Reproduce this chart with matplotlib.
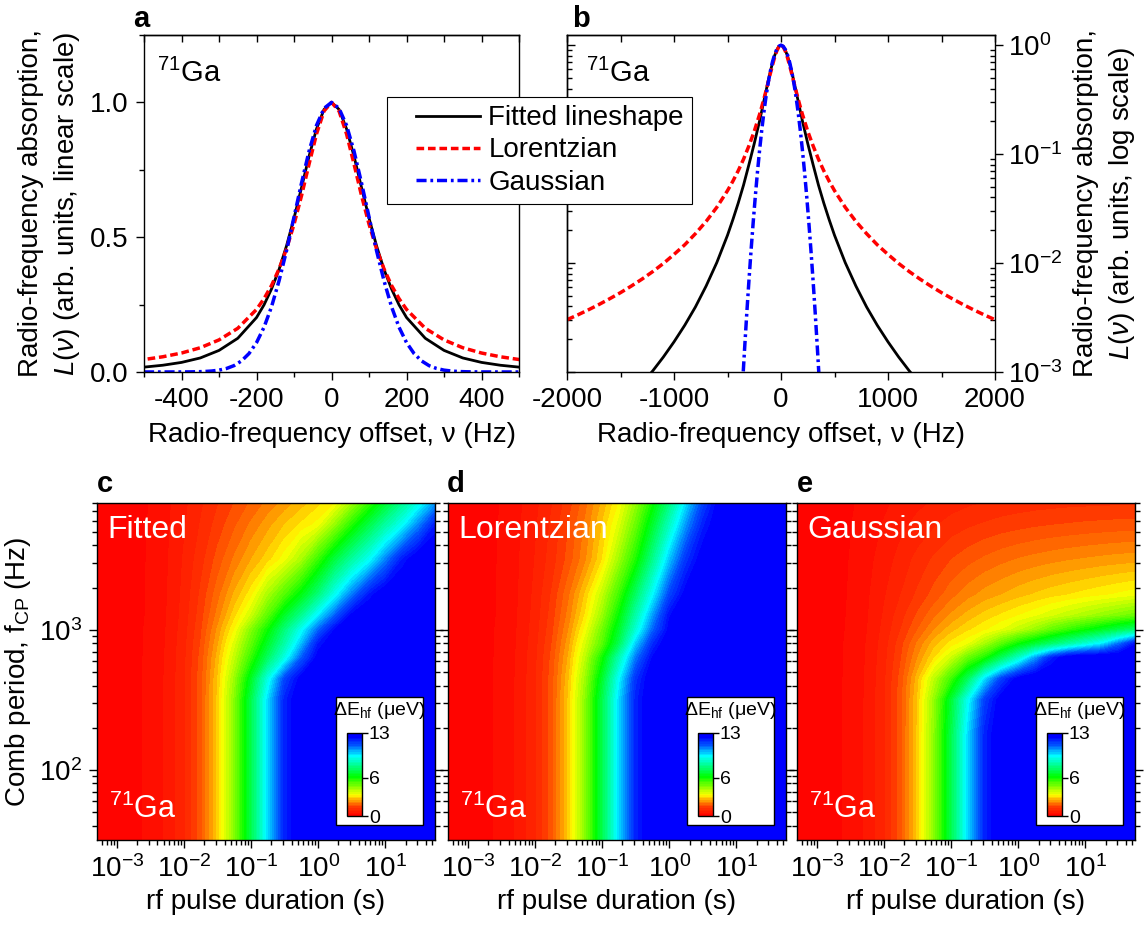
import matplotlib.pyplot as plt
import numpy as np
from matplotlib.colors import LinearSegmentedColormap
from matplotlib.legend_handler import HandlerLine2D
from matplotlib.lines import Line2D
from matplotlib.patches import Rectangle
from matplotlib.ticker import FormatStrFormatter, LogLocator, MultipleLocator, NullFormatter

plt.rcParams["font.family"] = ["Liberation Sans", "DejaVu Sans"]
plt.rcParams["mathtext.fontset"] = "custom"
plt.rcParams["mathtext.rm"] = "Liberation Sans"
plt.rcParams["mathtext.it"] = "Liberation Sans:italic"
plt.rcParams["mathtext.bf"] = "Liberation Sans:bold"
plt.rcParams["axes.unicode_minus"] = False
plt.rcParams["axes.linewidth"] = 1.0

NU_FIT = [0, 20, 40, 60, 80, 100, 120, 140, 160, 180, 200, 250, 300, 350, 400,
          450, 500, 600, 700, 800, 900, 1000, 1100, 1200, 1300]
L_FIT = [1.0, 0.974, 0.902, 0.800, 0.684, 0.571, 0.468, 0.380, 0.308, 0.249,
         0.202, 0.125, 0.0800, 0.0520, 0.0355, 0.0250, 0.0180, 0.0101, 0.00615,
         0.00395, 0.00268, 0.00189, 0.00137, 0.00102, 0.000786]

NU_LOR = [0, 20, 40, 60, 80, 100, 120, 140, 160, 180, 200, 250, 300, 350, 400,
          450, 500, 600, 700, 800, 900, 1000, 1100, 1200, 1300, 1400, 1500, 1600,
          1700, 1800, 1900, 2000]
L_LOR = [1.0, 0.968, 0.883, 0.771, 0.654, 0.548, 0.457, 0.382, 0.321, 0.272,
         0.232, 0.162, 0.119, 0.0899, 0.0703, 0.0564, 0.0462, 0.0325, 0.0241,
         0.0186, 0.0147, 0.0120, 0.00990, 0.00833, 0.00711, 0.00614, 0.00535,
         0.00471, 0.00417, 0.00372, 0.00334, 0.00302]

NU_GAU = [0, 20, 40, 60, 80, 100, 120, 140, 160, 180, 200, 220, 240, 260, 280,
          300, 320, 340, 360, 380, 400, 450, 500]
L_GAU = [1.0, 0.978, 0.915, 0.819, 0.701, 0.575, 0.450, 0.338, 0.242, 0.166,
         0.109, 0.0685, 0.0411, 0.0236, 0.0130, 0.00683, 0.00344, 0.00165,
         0.000762, 0.000335, 0.000141, 1.3e-5, 1e-6]

# ── ΔE_hf maps (μeV), rows = log10 comb period, cols = log10 pulse duration ──
LOG_TAU = [-3.3, -3.0, -2.75, -2.5, -2.25, -2.0, -1.75, -1.5, -1.25, -1.0, -0.75,
           -0.5, -0.25, 0.0, 0.25, 0.5, 0.75, 1.0, 1.25, 1.5, 1.75]
LOG_FCP = [1.5, 2.25, 2.5, 2.65, 2.8, 2.9, 3.0, 3.1, 3.25, 3.5, 3.75, 3.91]

DE_FIT = [
    [0.05, 0.10, 0.18, 0.31, 0.55, 0.96, 1.66, 2.81, 4.56, 6.98, 9.68, 11.86, 12.83, 13, 13, 13, 13, 13, 13, 13, 13],
    [0.05, 0.10, 0.18, 0.31, 0.55, 0.96, 1.66, 2.81, 4.56, 6.98, 9.68, 11.86, 12.83, 13, 13, 13, 13, 13, 13, 13, 13],
    [0.05, 0.10, 0.18, 0.31, 0.55, 0.96, 1.66, 2.81, 4.56, 6.98, 9.68, 11.86, 12.83, 13, 13, 13, 13, 13, 13, 13, 13],
    [0.05, 0.10, 0.18, 0.31, 0.55, 0.95, 1.64, 2.75, 4.35, 6.5, 9.0, 11.3, 12.5, 12.95, 13, 13, 13, 13, 13, 13, 13],
    [0.05, 0.10, 0.18, 0.31, 0.54, 0.93, 1.58, 2.6, 3.9, 5.5, 7.3, 9.0, 11.0, 12.5, 12.9, 13, 13, 13, 13, 13, 13],
    [0.05, 0.10, 0.18, 0.30, 0.53, 0.91, 1.52, 2.45, 3.6, 5.0, 6.6, 8.2, 10.0, 12.0, 12.8, 13, 13, 13, 13, 13, 13],
    [0.05, 0.10, 0.18, 0.30, 0.52, 0.88, 1.45, 2.3, 3.25, 4.6, 6.0, 7.6, 9.2, 10.9, 12.3, 12.9, 13, 13, 13, 13, 13],
    [0.05, 0.10, 0.17, 0.29, 0.51, 0.85, 1.38, 2.1, 2.9, 3.8, 5.1, 6.6, 7.9, 9.5, 11.0, 12.4, 12.9, 13, 13, 13, 13],
    [0.05, 0.10, 0.17, 0.29, 0.50, 0.82, 1.3, 1.9, 2.55, 3.15, 4.2, 5.2, 6.3, 7.6, 9.2, 10.7, 12.0, 12.8, 13, 13, 13],
    [0.05, 0.10, 0.17, 0.28, 0.48, 0.78, 1.15, 1.6, 2.05, 2.5, 2.9, 3.4, 4.2, 5.5, 6.9, 8.1, 9.2, 10.6, 12.0, 12.8, 13],
    [0.05, 0.10, 0.17, 0.27, 0.46, 0.72, 1.02, 1.35, 1.7, 2.05, 2.4, 2.75, 3.05, 3.35, 4.4, 5.7, 6.9, 8.1, 9.2, 10.6, 12.0],
    [0.05, 0.10, 0.17, 0.26, 0.44, 0.68, 0.95, 1.22, 1.5, 1.78, 2.06, 2.34, 2.62, 2.9, 3.2, 4.2, 5.4, 6.6, 7.8, 9.0, 10.3],
]

DE_LOR = [
    [0.05, 0.10, 0.18, 0.31, 0.55, 0.96, 1.66, 2.81, 4.56, 6.98, 9.68, 11.86, 12.83, 13, 13, 13, 13, 13, 13, 13, 13],
    [0.05, 0.10, 0.18, 0.31, 0.55, 0.96, 1.66, 2.81, 4.56, 6.98, 9.68, 11.86, 12.83, 13, 13, 13, 13, 13, 13, 13, 13],
    [0.05, 0.10, 0.18, 0.31, 0.55, 0.96, 1.66, 2.81, 4.56, 6.98, 9.68, 11.86, 12.83, 13, 13, 13, 13, 13, 13, 13, 13],
    [0.05, 0.10, 0.18, 0.31, 0.55, 0.95, 1.63, 2.72, 4.35, 6.6, 9.3, 11.6, 12.75, 13, 13, 13, 13, 13, 13, 13, 13],
    [0.05, 0.10, 0.18, 0.31, 0.54, 0.93, 1.57, 2.55, 4.0, 5.9, 8.3, 10.7, 12.3, 12.9, 13, 13, 13, 13, 13, 13, 13],
    [0.05, 0.10, 0.18, 0.30, 0.53, 0.90, 1.50, 2.40, 3.7, 5.1, 7.1, 9.8, 11.7, 12.8, 13, 13, 13, 13, 13, 13, 13],
    [0.05, 0.10, 0.18, 0.30, 0.52, 0.87, 1.42, 2.25, 3.35, 4.8, 6.6, 8.8, 10.9, 12.4, 12.95, 13, 13, 13, 13, 13, 13],
    [0.05, 0.10, 0.17, 0.29, 0.51, 0.84, 1.36, 2.1, 3.05, 4.35, 6.1, 8.2, 10.3, 12.2, 12.9, 13, 13, 13, 13, 13, 13],
    [0.05, 0.10, 0.17, 0.29, 0.50, 0.81, 1.28, 1.95, 2.8, 3.9, 5.4, 7.3, 9.3, 11.3, 12.5, 12.9, 13, 13, 13, 13, 13],
    [0.05, 0.10, 0.17, 0.28, 0.48, 0.76, 1.12, 1.6, 2.2, 3.0, 4.3, 5.8, 7.8, 9.9, 11.6, 12.6, 12.95, 13, 13, 13, 13],
    [0.05, 0.10, 0.17, 0.27, 0.46, 0.71, 1.05, 1.5, 2.05, 2.75, 3.6, 4.9, 6.6, 8.5, 10.4, 11.9, 12.7, 13, 13, 13, 13],
    [0.05, 0.10, 0.17, 0.26, 0.44, 0.67, 0.98, 1.38, 1.9, 2.55, 3.25, 4.4, 5.9, 7.6, 9.6, 11.3, 12.5, 12.95, 13, 13, 13],
]

DE_GAU = [
    [0.05, 0.10, 0.18, 0.31, 0.55, 0.96, 1.66, 2.81, 4.56, 6.98, 9.68, 11.86, 12.83, 13, 13, 13, 13, 13, 13, 13, 13],
    [0.05, 0.10, 0.18, 0.31, 0.55, 0.96, 1.66, 2.81, 4.56, 6.98, 9.68, 11.86, 12.83, 13, 13, 13, 13, 13, 13, 13, 13],
    [0.05, 0.10, 0.18, 0.31, 0.55, 0.96, 1.65, 2.78, 4.45, 6.7, 9.2, 11.4, 12.6, 12.95, 13, 13, 13, 13, 13, 13, 13],
    [0.05, 0.10, 0.18, 0.31, 0.54, 0.94, 1.6, 2.65, 4.0, 5.4, 7.2, 9.6, 11.4, 12.5, 12.9, 13, 13, 13, 13, 13, 13],
    [0.05, 0.10, 0.18, 0.30, 0.53, 0.9, 1.48, 2.25, 3.0, 3.8, 4.9, 5.8, 7.2, 8.6, 10.3, 11.9, 12.8, 13, 13, 13, 13],
    [0.05, 0.10, 0.18, 0.30, 0.52, 0.87, 1.4, 2.05, 2.65, 3.1, 3.45, 4.2, 5.1, 6.0, 6.7, 7.4, 8.1, 8.8, 9.5, 10.8, 12.2],
    [0.05, 0.10, 0.17, 0.29, 0.50, 0.82, 1.25, 1.75, 2.25, 2.65, 2.95, 3.2, 3.5, 3.9, 4.4, 5.0, 5.5, 6.0, 6.5, 7.0, 7.5],
    [0.05, 0.10, 0.17, 0.28, 0.48, 0.78, 1.15, 1.55, 1.95, 2.3, 2.6, 2.85, 3.05, 3.25, 3.45, 3.7, 3.95, 4.2, 4.45, 4.7, 4.95],
    [0.05, 0.10, 0.17, 0.27, 0.46, 0.72, 1.0, 1.3, 1.6, 1.9, 2.15, 2.35, 2.5, 2.65, 2.78, 2.9, 3.0, 3.1, 3.2, 3.3, 3.4],
    [0.05, 0.10, 0.16, 0.26, 0.42, 0.62, 0.85, 1.08, 1.3, 1.5, 1.66, 1.8, 1.92, 2.02, 2.1, 2.17, 2.23, 2.28, 2.33, 2.37, 2.4],
    [0.05, 0.10, 0.16, 0.24, 0.37, 0.52, 0.68, 0.83, 0.97, 1.1, 1.2, 1.28, 1.35, 1.4, 1.45, 1.49, 1.52, 1.55, 1.57, 1.59, 1.6],
    [0.05, 0.10, 0.15, 0.22, 0.33, 0.45, 0.57, 0.68, 0.78, 0.87, 0.94, 1.0, 1.05, 1.09, 1.12, 1.14, 1.16, 1.17, 1.18, 1.19, 1.2],
]

MAP_NAMES = ["Fitted", "Lorentzian", "Gaussian"]
DE_MAX = 13

RED_DASH = (0, (2.2, 1.1))
BLUE_DASHDOT = (0, (2.9, 1.1, 0.8, 1.1))

TAU_LIM = (-3.3, 1.74)   # log10 of the pulse-duration axis limits
FCP_LIM = (1.5, 3.905)   # log10 of the comb-period axis limits


def mirror(nu, val):
    nu = np.asarray(nu, dtype=float)
    val = np.asarray(val, dtype=float)
    return np.concatenate([-nu[:0:-1], nu]), np.concatenate([val[:0:-1], val])


def draw_lines(ax):
    x, y = mirror(NU_FIT, L_FIT)
    ax.plot(x, y, color="black", lw=2.0, label="Fitted lineshape")
    x, y = mirror(NU_LOR, L_LOR)
    ax.plot(x, y, color="#ff0000", lw=2.5, ls=RED_DASH, label="Lorentzian")
    x, y = mirror(NU_GAU, L_GAU)
    ax.plot(x, y, color="#0000ff", lw=2.5, ls=BLUE_DASHDOT, label="Gaussian")


def log_ticks(axis):
    axis.set_major_locator(LogLocator(base=10, numticks=20))
    axis.set_minor_locator(LogLocator(base=10, subs=np.arange(2, 10), numticks=20))
    axis.set_minor_formatter(NullFormatter())


fig = plt.figure(figsize=(11.45, 9.26), dpi=100)

# ── panel a: linear scale ────────────────────────────────────────────
ax_a = fig.add_axes([0.1258, 0.5983, 0.3275, 0.3639])
draw_lines(ax_a)
ax_a.set_xlim(-500, 500)
ax_a.set_ylim(0, 1.25)
ax_a.xaxis.set_major_locator(MultipleLocator(200))
ax_a.xaxis.set_minor_locator(MultipleLocator(100))
ax_a.yaxis.set_major_locator(MultipleLocator(0.5))
ax_a.yaxis.set_minor_locator(MultipleLocator(0.25))
ax_a.yaxis.set_major_formatter(FormatStrFormatter("%.1f"))
ax_a.tick_params(which="both", direction="out", top=False, right=False, labelsize=20, pad=5)
ax_a.tick_params(which="major", length=6, width=1)
ax_a.tick_params(which="minor", length=3.5, width=1)
top_a = ax_a.secondary_xaxis("top")
top_a.set_xticks(np.arange(-500, 501, 100))
top_a.tick_params(direction="in", labeltop=False, length=5, width=1)
ax_a.set_xlabel("Radio-frequency offset, ν (Hz)", fontsize=20, labelpad=6)
ax_a.set_ylabel("Radio-frequency absorption,\n$L(\\nu)$ (arb. units, linear scale)",
                fontsize=20, linespacing=1.35, labelpad=6)
ax_a.text(0.035, 0.86, "$^{71}$Ga", transform=ax_a.transAxes, fontsize=21, va="baseline")

# ── panel b: log scale ───────────────────────────────────────────────
ax_b = fig.add_axes([0.4952, 0.5983, 0.3738, 0.3639])
draw_lines(ax_b)
ax_b.set_yscale("log")
ax_b.set_xlim(-2000, 2000)
ax_b.set_ylim(1e-3, 1.24)
ax_b.xaxis.set_major_locator(MultipleLocator(1000))
ax_b.xaxis.set_minor_locator(MultipleLocator(500))
ax_b.yaxis.tick_right()
ax_b.yaxis.set_label_position("right")
ax_b.tick_params(axis="x", which="both", direction="out", top=False, labelsize=20, pad=5)
ax_b.tick_params(axis="x", which="major", length=6, width=1)
ax_b.tick_params(axis="x", which="minor", length=3.5, width=1)
ax_b.tick_params(axis="y", which="major", direction="out", left=False, right=True,
                 length=6, width=1, labelsize=20, pad=3)
ax_b.tick_params(axis="y", which="minor", direction="in", left=False, right=True,
                 length=3.5, width=1)
left_b = ax_b.secondary_yaxis("left")
left_b.tick_params(which="both", direction="in", labelleft=False, width=1)
left_b.tick_params(which="major", length=6)
left_b.tick_params(which="minor", length=3.5)
top_b = ax_b.secondary_xaxis("top")
top_b.set_xticks(np.arange(-2000, 2001, 500))
top_b.tick_params(direction="in", labeltop=False, length=5, width=1)
ax_b.set_xlabel("Radio-frequency offset, ν (Hz)", fontsize=20, labelpad=6)
ax_b.set_ylabel("Radio-frequency absorption,\n$L(\\nu)$ (arb. units, log scale)",
                fontsize=20, linespacing=1.35, labelpad=8)
ax_b.text(0.044, 0.86, "$^{71}$Ga", transform=ax_b.transAxes, fontsize=21, va="baseline")

handles, labels = ax_a.get_legend_handles_labels()
leg = fig.legend(handles, labels, loc="upper left", bbox_to_anchor=(0.338, 0.8952),
                 fontsize=20, frameon=True, fancybox=False, edgecolor="black", framealpha=1,
                 handlelength=3.05, handletextpad=0.3, labelspacing=0.22, borderpad=0.3,
                 borderaxespad=0.0, handler_map={Line2D: HandlerLine2D(xpad=0.75)})
leg.get_frame().set_linewidth(0.8)

# ── panels c-e: ΔE_hf maps ───────────────────────────────────────────
cmap = LinearSegmentedColormap.from_list(
    "rainbow_r",
    [(0.0, "#ff0000"), (0.10, "#ff3300"), (0.17, "#ff8c00"), (0.25, "#ffff00"),
     (0.47, "#00ff00"), (0.72, "#00ffff"), (0.86, "#0050ff"), (0.95, "#0000ff"),
     (1.0, "#0000ff")],
)
levels = np.linspace(0, DE_MAX, 53)

map_lefts = [0.0847, 0.3913, 0.6961]
for i, (left, data, name) in enumerate(zip(map_lefts, [DE_FIT, DE_LOR, DE_GAU], MAP_NAMES)):
    rect = [left, 0.0929, 0.2952, 0.3639]
    # the map itself lives in log10 coordinates underneath the log-scaled frame
    ax_map = fig.add_axes(rect, zorder=0)
    cs = ax_map.contourf(LOG_TAU, LOG_FCP, np.asarray(data), levels=levels, cmap=cmap,
                         vmin=0, vmax=DE_MAX)
    ax_map.set_xlim(*TAU_LIM)
    ax_map.set_ylim(*FCP_LIM)
    ax_map.axis("off")

    ax = fig.add_axes(rect, zorder=1)
    ax.patch.set_visible(False)
    ax.set_xscale("log")
    ax.set_yscale("log")
    ax.set_xlim(10 ** TAU_LIM[0], 10 ** TAU_LIM[1])
    ax.set_ylim(10 ** FCP_LIM[0], 10 ** FCP_LIM[1])
    log_ticks(ax.xaxis)
    log_ticks(ax.yaxis)
    ax.tick_params(which="both", direction="out", top=False, right=True, left=True,
                   labelsize=20, width=1, pad=5)
    ax.tick_params(which="major", length=6)
    ax.tick_params(which="minor", length=3.5)
    if i > 0:
        ax.tick_params(labelleft=False)
    else:
        ax.set_ylabel("Comb period, f$_{\\mathrm{CP}}$ (Hz)", fontsize=20, labelpad=4)
    ax.set_xlabel("rf pulse duration (s)", fontsize=20, labelpad=4)

    ax.text(0.03, 0.965, name, transform=ax.transAxes, color="white", fontsize=23,
            va="top", ha="left")
    ax.text(0.035, 0.065, "$^{71}$Ga", transform=ax.transAxes, color="white",
            fontsize=22, va="baseline")

    ax.add_patch(Rectangle((0.707, 0.045), 0.257, 0.379, transform=ax.transAxes,
                           facecolor="white", edgecolor="black", lw=1.0, zorder=3))
    ax.text(0.835, 0.383, "ΔE$_{\\mathrm{hf}}$ (μeV)", transform=ax.transAxes,
            ha="center", va="center", fontsize=14, zorder=4)
    cax = ax.inset_axes([0.740, 0.071, 0.044, 0.247])
    cb = fig.colorbar(cs, cax=cax, ticks=[0, 6, 13])
    cb.ax.tick_params(labelsize=14, length=4, width=1, direction="out", pad=1)
    cb.ax.minorticks_off()
    cb.outline.set_linewidth(1.0)

for x, y, letter in [(0.116, 0.971, "a"), (0.500, 0.971, "b"), (0.085, 0.4687, "c"),
                     (0.390, 0.4687, "d"), (0.696, 0.4687, "e")]:
    fig.text(x, y, letter, fontsize=21, fontweight="bold", va="baseline")

fig.savefig("out.png", dpi=100, facecolor="white")
